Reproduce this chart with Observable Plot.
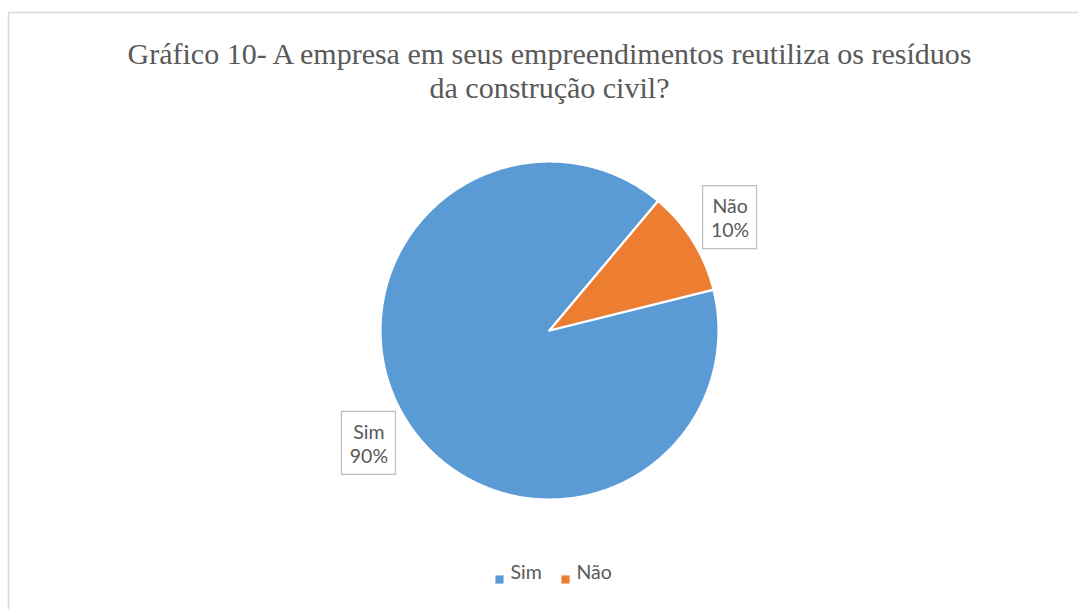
<!DOCTYPE html>
<html>
<head>
<meta charset="utf-8">
<script src="https://cdn.jsdelivr.net/npm/d3@7"></script>
<script src="https://cdn.jsdelivr.net/npm/@observablehq/plot@0.6"></script>
<style>
  html, body { margin: 0; padding: 0; background: #fff; }
  #chart svg { display: block; }
</style>
</head>
<body>
<div id="chart"></div>
<script>
// ---- Data ----
const titleLines = ["Gráfico 10- A empresa em seus empreendimentos reutiliza os resíduos", "da construção civil?"];
const categories = ["Sim", "Não"];
const values = [90, 10];
const colors = ["#5B9BD5", "#ED7D31"];
const firstSliceAngle = 76; // degrees, clockwise from 12 o'clock

// ---- Geometry derived from data ----
const total = d3.sum(values);
const start = firstSliceAngle * Math.PI / 180;
const arcs = d3.pie().sort(null).startAngle(start).endAngle(start + 2 * Math.PI)(values);

const slicePoints = [];
arcs.forEach((a, i) => {
  const key = categories[i];
  slicePoints.push({key, x: 0, y: 0});
  const n = Math.max(2, Math.ceil((a.endAngle - a.startAngle) / (Math.PI / 360)));
  for (let k = 0; k <= n; k++) {
    const t = a.startAngle + (a.endAngle - a.startAngle) * k / n;
    slicePoints.push({key, x: Math.sin(t), y: Math.cos(t)});
  }
  slicePoints.push({key, x: 0, y: 0});
});

const R_PX = 169;           // pie radius in pixels
const labelR = 1.26;        // label distance, in radii
const boxW = 54 / R_PX, boxH = 63 / R_PX;
const labels = arcs.map((a, i) => {
  const m = (a.startAngle + a.endAngle) / 2;
  const x = labelR * Math.sin(m), y = labelR * Math.cos(m);
  return {
    key: categories[i],
    text: `${categories[i]}\n${Math.round(values[i] / total * 100)}%`,
    x, y,
    x1: x - boxW / 2, x2: x + boxW / 2, y1: y - boxH / 2, y2: y + boxH / 2
  };
});

const textColor = "#595959";
const sansFont = "Lato, 'Open Sans', sans-serif";

// legend layout (pixels relative to bottom-centre of the SVG)
const legendOffsets = [-40, 26];

const legendMarks = categories.flatMap((c, i) => [
  Plot.dot([c], {frameAnchor: "bottom", dx: legendOffsets[i], dy: -30, symbol: "square", r: 4.6, fill: d => d, stroke: null}),
  Plot.text([c], {frameAnchor: "bottom", dx: legendOffsets[i] + 11, dy: -31, text: d => d, textAnchor: "start",
    fill: textColor, fontSize: 19.5, fontFamily: sansFont})
]);

const chart = Plot.plot({
  width: 1078,
  height: 609,
  margin: 0,
  style: {background: "#fff", overflow: "visible"},
  x: {domain: [-1, 1], range: [549 - R_PX, 549 + R_PX], axis: null},
  y: {domain: [-1, 1], range: [330 + R_PX, 330 - R_PX], axis: null},
  color: {domain: categories, range: colors},
  marks: [
    Plot.frame({stroke: "#d9d9d9", strokeWidth: 1.5, insetLeft: 8, insetTop: 12, insetRight: -20, insetBottom: -20}),
    Plot.line(slicePoints, {x: "x", y: "y", z: "key", fill: "key", stroke: "white", strokeWidth: 2.2, strokeLinejoin: "miter", curve: "linear"}),
    Plot.rect(labels, {x1: "x1", x2: "x2", y1: "y1", y2: "y2", fill: "white", stroke: "#bfbfbf", strokeWidth: 1.3}),
    Plot.text(labels, {x: "x", y: "y", text: "text", fill: textColor, fontSize: 19.5, lineHeight: 1.23, fontFamily: sansFont}),
    Plot.text([titleLines.join("\n")], {frameAnchor: "top", dx: 10, dy: 39, text: d => d, lineAnchor: "top",
      fill: textColor, fontSize: 30, lineHeight: 1.15, fontFamily: "'Liberation Serif', 'Times New Roman', serif"}),
    ...legendMarks
  ]
});

document.getElementById("chart").appendChild(chart);
</script>
</body>
</html>
